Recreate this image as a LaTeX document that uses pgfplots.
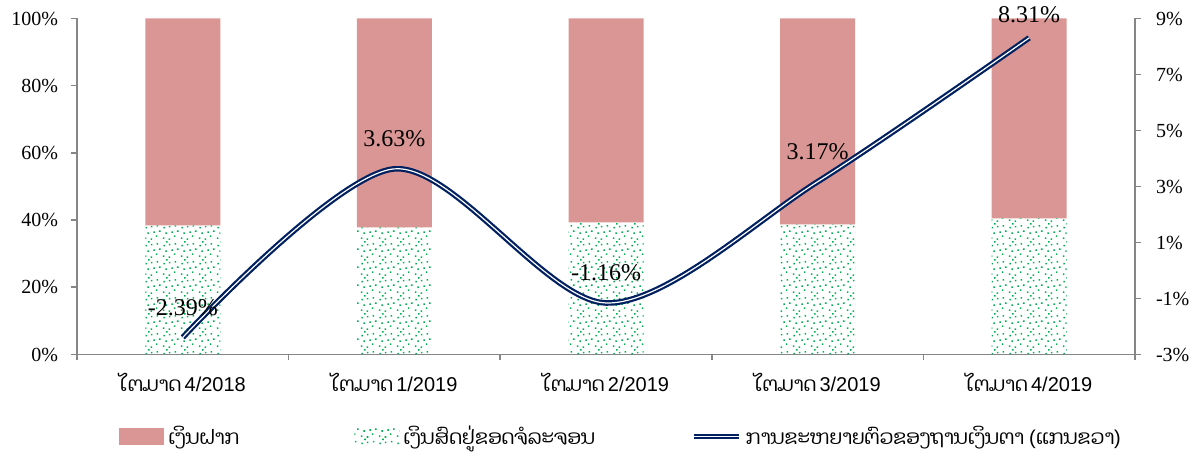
\documentclass[border=0pt]{standalone}
\usepackage{pgfplots}
\pgfplotsset{compat=1.18}
\usepackage{fontspec}
\usetikzlibrary{patterns}
\setmainfont{Liberation Serif}
\newfontfamily\sffont{Liberation Sans}
\newfontfamily\laofont[Script=Lao]{Dhyana}
\definecolor{pinkc}{HTML}{D99694}
\definecolor{greenc}{HTML}{00B050}
\definecolor{navyc}{HTML}{002060}
\definecolor{axgrey}{HTML}{868686}
\pgfdeclarepatternformonly{confetti}{\pgfpointorigin}{\pgfqpoint{9pt}{9pt}}{\pgfqpoint{9pt}{9pt}}{%
  \pgfpathrectangle{\pgfqpoint{0.4pt}{0.6pt}}{\pgfqpoint{0.8pt}{0.8pt}}%
  \pgfpathrectangle{\pgfqpoint{3.5pt}{0.1pt}}{\pgfqpoint{0.8pt}{0.8pt}}%
  \pgfpathrectangle{\pgfqpoint{6.2pt}{1.6pt}}{\pgfqpoint{0.8pt}{0.8pt}}%
  \pgfpathrectangle{\pgfqpoint{1.8pt}{3.2pt}}{\pgfqpoint{0.8pt}{0.8pt}}%
  \pgfpathrectangle{\pgfqpoint{4.9pt}{3.7pt}}{\pgfqpoint{0.8pt}{0.8pt}}%
  \pgfpathrectangle{\pgfqpoint{7.9pt}{4.2pt}}{\pgfqpoint{0.8pt}{0.8pt}}%
  \pgfpathrectangle{\pgfqpoint{0.7pt}{6.1pt}}{\pgfqpoint{0.8pt}{0.8pt}}%
  \pgfpathrectangle{\pgfqpoint{3.6pt}{6.6pt}}{\pgfqpoint{0.8pt}{0.8pt}}%
  \pgfpathrectangle{\pgfqpoint{6.7pt}{7.0pt}}{\pgfqpoint{0.8pt}{0.8pt}}%
  \pgfpathrectangle{\pgfqpoint{2.2pt}{8.1pt}}{\pgfqpoint{0.8pt}{0.8pt}}%
  \pgfusepath{fill}}
\newcommand{\lab}[1]{{\laofont ໄຕມາດ}\,{\sffont #1}}
\begin{document}
\begin{tikzpicture}
\path (-38.5pt,-48.5pt) rectangle (561.5pt,176.5pt);
\pgfplotsset{
  common/.style={
    scale only axis, width=529pt, height=168pt, at={(0pt,0pt)}, anchor=south west,
    xmin=-0.5, xmax=4.5,
    /pgf/number format/assume math mode=true,
    tick label style={font=\fontsize{10}{12}\selectfont, text=black},
    axis line style={axgrey, line width=0.8pt},
    major tick style={axgrey, line width=0.8pt},
    major tick length=3pt,
  }
}
\begin{axis}[common,
  ybar stacked, bar width=37.5pt,
  ymin=0, ymax=100,
  axis x line*=bottom, axis y line*=left,
  ytick={0,20,...,100},
  yticklabel={\pgfmathprintnumber{\tick}\%},
  y tick label style={xshift=-3pt},
  xtick={-0.5,0.5,1.5,2.5,3.5,4.5},
  xticklabels={\lab{4/2018},\lab{1/2019},\lab{2/2019},\lab{3/2019},\lab{4/2019}},
  x tick label as interval,
  x tick label style={font=\fontsize{10}{12}\selectfont, yshift=-3pt},
  tick align=outside,
]
\addplot[draw=none, pattern=confetti, pattern color=greenc] coordinates {(0,38.4) (1,37.8) (2,39.3) (3,38.7) (4,40.5)};
\addplot[draw=none, fill=pinkc] coordinates {(0,61.6) (1,62.2) (2,60.7) (3,61.3) (4,59.5)};
\end{axis}
\begin{axis}[common,
  ymin=-3, ymax=9,
  axis y line*=right, axis x line=none,
  ytick={-3,-1,...,9},
  yticklabel={\pgfmathprintnumber{\tick}\%},
  y tick label style={xshift=4pt},
  tick align=outside,
  legend style={at={(0.034,-0.244)}, anchor=west, draw=none, fill=none,
    legend columns=3, font=\laofont\fontsize{10}{12}\selectfont,
    /tikz/every even column/.append style={column sep=0pt}},
]
\addlegendimage{legend image code/.code={\path[fill=pinkc, draw=none] (0pt,-4.25pt) rectangle (22.5pt,4.25pt);}}
\addlegendentry{\makebox[91pt][l]{ເງິນຝາກ}}
\addlegendimage{legend image code/.code={\path[draw=none, pattern=confetti, pattern color=greenc] (0pt,-4.25pt) rectangle (22.5pt,4.25pt);}}
\addlegendentry{\makebox[142pt][l]{ເງິນສົດຢູ່ຂອດຈໍລະຈອນ}}
\addplot[smooth, draw=navyc, double=white, double distance=0.6pt, line width=1.1pt,
  legend image code/.code={\draw[draw=navyc, double=white, double distance=0.6pt, line width=1.1pt] (0pt,0pt) -- (22.5pt,0pt);},
  nodes near coords, point meta=explicit symbolic,
  visualization depends on={\thisrow{dy}\as\dy},
  every node near coord/.append style={anchor=center, yshift=\dy pt, font=\fontsize{12}{14}\selectfont, text=black}]
table[x=x, y=y, meta=lab] {
x y lab dy
0 -2.39 -2.39\% 15
1 3.63 3.63\% 15
2 -1.16 -1.16\% 15
3 3.17 3.17\% 15
4 8.31 8.31\% 11.5
};
\addlegendentry{ການຂະຫຍາຍຕົວຂອງຖານເງິນຕາ {\sffont(}ແກນຂວາ{\sffont)}}
\end{axis}
\end{tikzpicture}
\end{document}
